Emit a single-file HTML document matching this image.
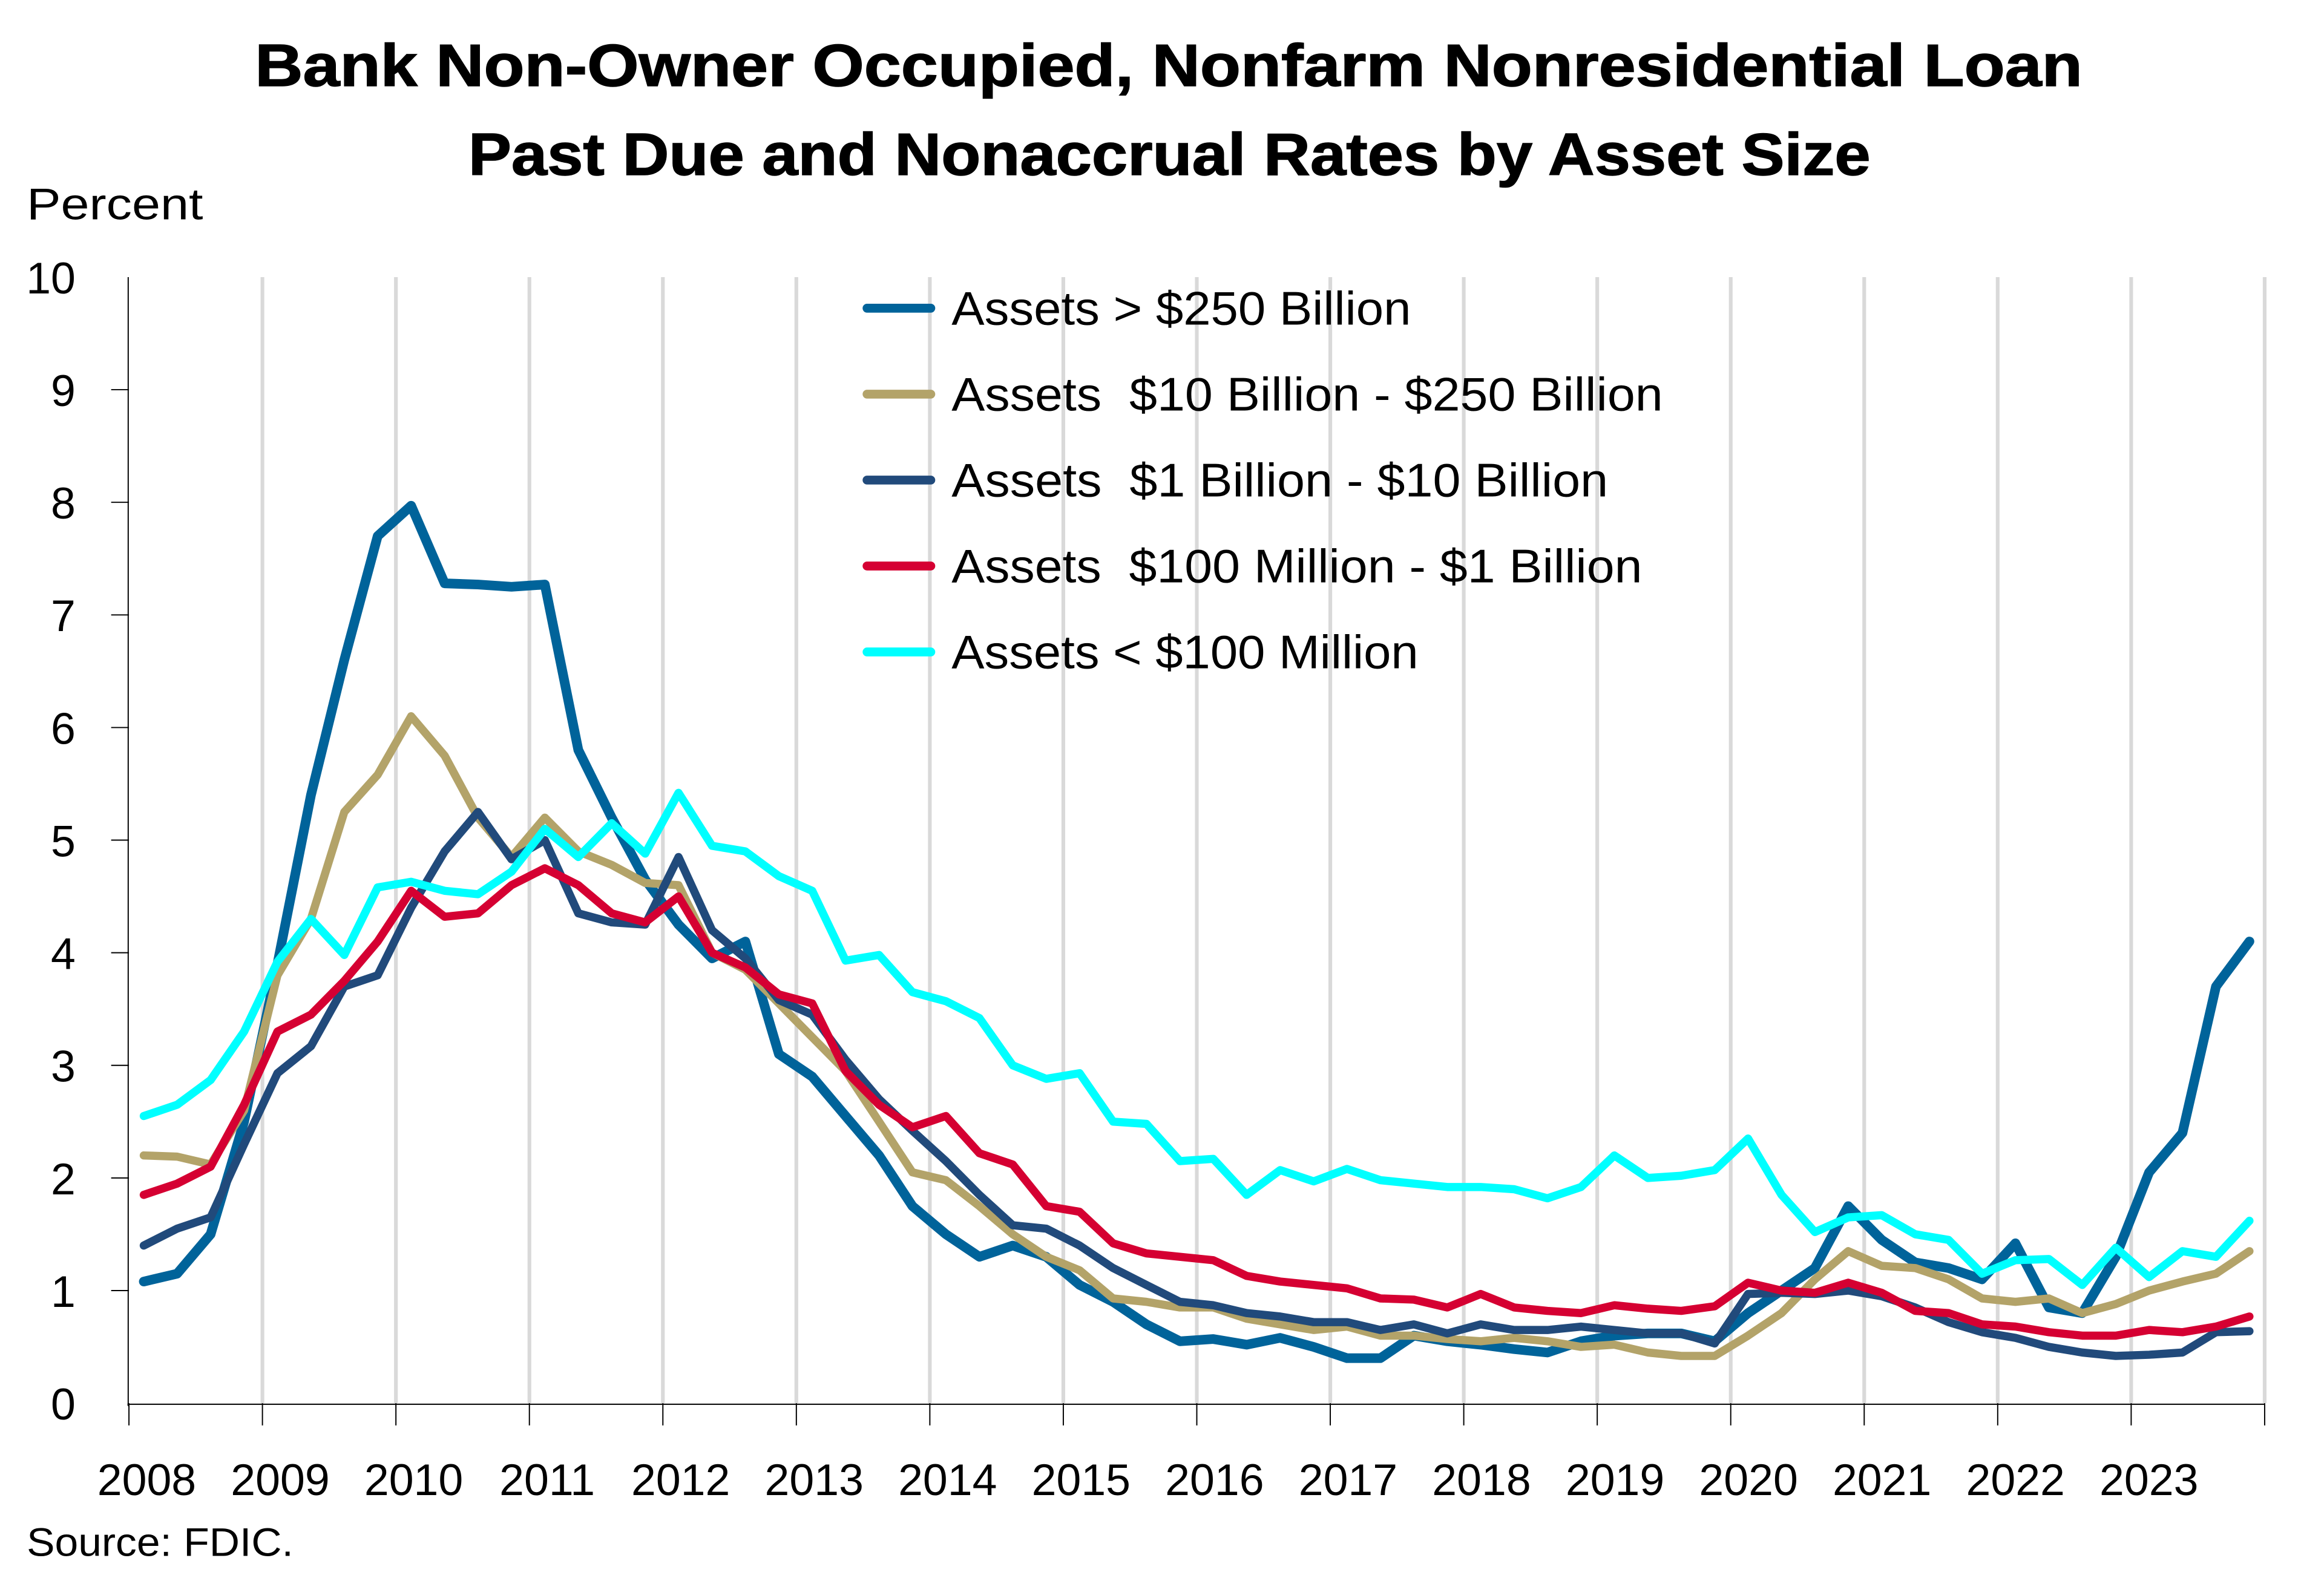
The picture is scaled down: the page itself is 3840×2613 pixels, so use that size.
<!DOCTYPE html>
<html><head><meta charset="utf-8"><style>
html,body{margin:0;padding:0;background:#fff;}
svg{display:block;}
text{font-family:"Liberation Sans",sans-serif;fill:#000;}
</style></head><body>
<svg id="s" width="3840" height="2613" viewBox="0 0 1568 1067" preserveAspectRatio="none" xmlns="http://www.w3.org/2000/svg">
<rect width="1568" height="1067" fill="#fff"/>
<text x="172" y="58" font-size="40" font-weight="bold" stroke="#000" stroke-width="0.6" textLength="1233" lengthAdjust="spacingAndGlyphs">Bank Non-Owner Occupied, Nonfarm Nonresidential Loan</text>
<text x="316" y="118" font-size="40" font-weight="bold" stroke="#000" stroke-width="0.6" textLength="946" lengthAdjust="spacingAndGlyphs">Past Due and Nonaccrual Rates by Asset Size</text>
<text x="18" y="148" font-size="30" textLength="119" lengthAdjust="spacingAndGlyphs">Percent</text>
<g id="grid"></g>
<g id="axes"></g>
<g id="series" fill="none" stroke-linejoin="round" stroke-linecap="round"></g>
<g id="legend"></g>
<text x="18" y="1050" font-size="27" textLength="180" lengthAdjust="spacingAndGlyphs">Source: FDIC.</text>
</svg>
<script>
var NS="http://www.w3.org/2000/svg";
function el(p,t,a,txt){var e=document.createElementNS(NS,t);for(var k in a)e.setAttribute(k,a[k]);if(txt!==undefined)e.textContent=txt;document.getElementById(p).appendChild(e);return e;}
var X0=87,XW=90.06,Y0=947,YU=76;
function yv(v){return Y0-YU*v;}
for(var i=1;i<=16;i++){var x=X0+XW*i;el("grid","line",{x1:x,x2:x,y1:187,y2:947,stroke:"#d9d9d9","stroke-width":2.5});}
el("axes","line",{x1:86.5,x2:86.5,y1:187,y2:949,stroke:"#000","stroke-width":0.8});
el("axes","line",{x1:86,x2:1528,y1:947.7,y2:947.7,stroke:"#000","stroke-width":0.8});
for(var v=0;v<=10;v++){
 if(v>0&&v<10)el("axes","line",{x1:75,x2:87,y1:yv(v),y2:yv(v),stroke:"#000","stroke-width":0.8});
 el("axes","text",{x:51,y:yv(v)+11,"font-size":30,"text-anchor":"end"},""+v);
}
for(var i=0;i<=16;i++){var x=X0+XW*i;el("axes","line",{x1:x,x2:x,y1:947,y2:962,stroke:"#000","stroke-width":0.8});
 if(i<16)el("axes","text",{x:x+12,y:1009,"font-size":30,"text-anchor":"middle"},""+(2008+i));}
var D={
big:[1.08,1.15,1.5,2.5,3.9,5.4,6.6,7.7,7.97,7.28,7.27,7.25,7.27,5.8,5.2,4.65,4.25,3.95,4.1,3.1,2.9,2.55,2.2,1.75,1.5,1.3,1.4,1.3,1.05,0.9,0.7,0.55,0.57,0.52,0.58,0.5,0.4,0.4,0.6,0.55,0.52,0.48,0.45,0.55,0.6,0.62,0.62,0.55,0.8,1.0,1.2,1.75,1.45,1.25,1.2,1.1,1.42,0.85,0.8,1.3,2.05,2.4,3.7,4.1],
tan:[2.2,2.19,2.12,2.6,3.8,4.3,5.25,5.58,6.1,5.75,5.2,4.85,5.2,4.9,4.78,4.62,4.6,4.0,3.85,3.55,3.25,2.95,2.5,2.05,1.98,1.75,1.5,1.3,1.18,0.93,0.9,0.85,0.85,0.75,0.7,0.65,0.68,0.6,0.6,0.57,0.55,0.58,0.55,0.5,0.52,0.45,0.42,0.42,0.6,0.8,1.1,1.35,1.22,1.2,1.1,0.93,0.9,0.93,0.8,0.88,1.0,1.08,1.15,1.35],
navy:[1.4,1.55,1.65,2.3,2.93,3.17,3.7,3.8,4.4,4.9,5.25,4.83,5.0,4.35,4.27,4.25,4.85,4.2,3.95,3.58,3.45,3.05,2.7,2.42,2.15,1.85,1.58,1.55,1.4,1.2,1.05,0.9,0.87,0.8,0.77,0.72,0.72,0.65,0.7,0.62,0.7,0.65,0.65,0.68,0.65,0.62,0.62,0.53,0.97,0.98,0.97,1.0,0.95,0.85,0.72,0.63,0.58,0.5,0.45,0.42,0.43,0.45,0.63,0.64],
red:[1.85,1.95,2.1,2.65,3.3,3.45,3.75,4.1,4.55,4.32,4.35,4.6,4.75,4.6,4.35,4.27,4.5,4.0,3.87,3.63,3.55,2.95,2.65,2.45,2.55,2.22,2.12,1.75,1.7,1.42,1.33,1.3,1.27,1.13,1.08,1.05,1.02,0.93,0.92,0.85,0.97,0.85,0.82,0.8,0.87,0.84,0.82,0.86,1.07,1.0,0.98,1.07,0.98,0.82,0.8,0.7,0.68,0.63,0.6,0.6,0.65,0.63,0.68,0.77],
cyan:[2.55,2.65,2.87,3.3,3.92,4.3,3.98,4.58,4.63,4.55,4.52,4.72,5.1,4.85,5.15,4.88,5.42,4.95,4.9,4.68,4.55,3.93,3.98,3.65,3.57,3.42,3.0,2.88,2.93,2.5,2.48,2.15,2.17,1.85,2.07,1.97,2.08,1.98,1.95,1.92,1.92,1.9,1.82,1.92,2.2,2.0,2.02,2.07,2.35,1.85,1.52,1.65,1.67,1.5,1.45,1.15,1.27,1.28,1.05,1.38,1.12,1.35,1.3,1.62]};
var S=[["big","#00639a",6.5,"Assets > $250 Billion",310],["tan","#b3a369",5.5,"Assets  $10 Billion - $250 Billion",480],["navy","#214a7b",5.5,"Assets  $1 Billion - $10 Billion",443],["red","#d50032",5.5,"Assets  $100 Million - $1 Billion",466],["cyan","#00ffff",5.5,"Assets < $100 Million",315]];
S.forEach(function(s,k){
 var pts=D[s[0]].map(function(v,i){return (97+22.55*i).toFixed(1)+","+yv(v).toFixed(1);}).join(" ");
 el("series","polyline",{points:pts,stroke:s[1],"stroke-width":s[2]});
 var ly=208+58*k;
 el("legend","line",{x1:585,x2:628,y1:ly,y2:ly,stroke:s[1],"stroke-width":6,"stroke-linecap":"round"});
 var t=el("legend","text",{x:642,y:ly+11,"font-size":32,textLength:s[4],lengthAdjust:"spacingAndGlyphs"},s[3]);
 t.setAttribute("xml:space","preserve");t.style.whiteSpace="pre";
});
</script>
</body></html>
